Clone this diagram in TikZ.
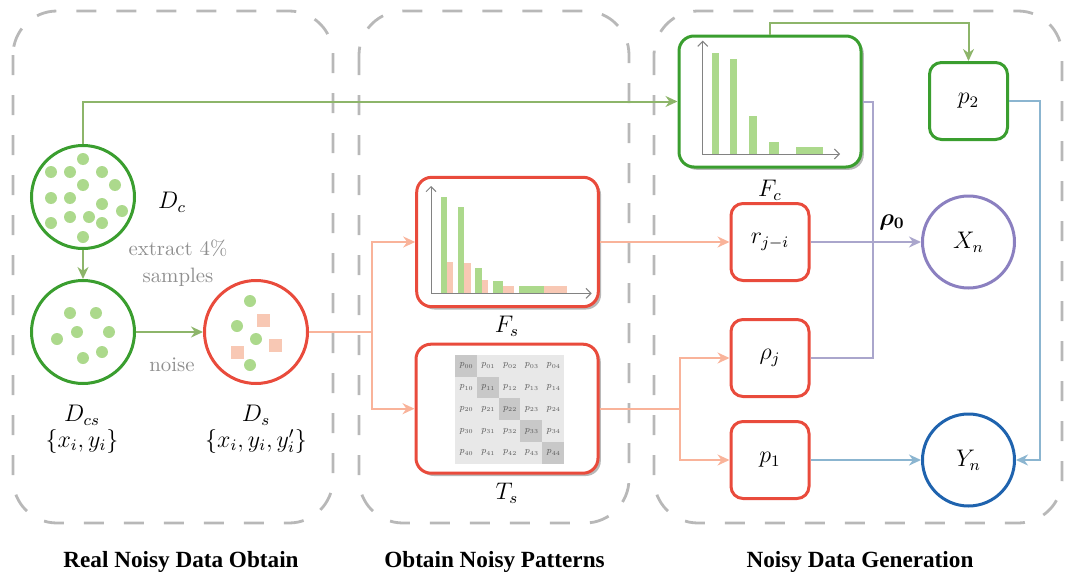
\documentclass[tikz,border=0pt]{standalone}
\usepackage{amsmath}
\usepackage{fontspec}
\newfontfamily\capfont{Liberation Serif}
\usetikzlibrary{arrows.meta,shadows,calc}
\definecolor{boxgreen}{RGB}{58,158,47}
\definecolor{dotgreen}{RGB}{172,217,140}
\definecolor{linegreen}{RGB}{141,181,106}
\definecolor{boxred}{RGB}{233,75,60}
\definecolor{salmon}{RGB}{249,179,154}
\definecolor{pinksq}{RGB}{248,200,180}
\definecolor{purpc}{RGB}{139,128,192}
\definecolor{purpl}{RGB}{170,166,204}
\definecolor{bluec}{RGB}{31,99,174}
\definecolor{bluel}{RGB}{139,181,208}
\definecolor{dashgray}{RGB}{184,184,184}
\definecolor{txtgray}{RGB}{143,143,143}
\definecolor{axgray}{RGB}{130,130,130}
\definecolor{cellA}{RGB}{232,232,232}
\definecolor{cellB}{RGB}{200,200,200}
\newcommand{\matentry}[2]{{\fontsize{4.6}{5}\selectfont\itshape p}\raisebox{-0.7pt}{\fontsize{3}{3}\selectfont #1#2}}
\begin{document}
\begin{tikzpicture}[x=0.5pt,y=-0.5pt,
  panelbox/.style={draw=dashgray, line width=1.4pt, dash pattern=on 10pt off 10pt, rounded corners=22pt},
  chartbox/.style={rectangle, rounded corners=7.5pt, line width=1.5pt, fill=white, inner sep=0pt,
     drop shadow={shadow xshift=1.4pt,shadow yshift=-1.4pt,fill=black!35,opacity=0.8}},
  smallbox/.style={rectangle, rounded corners=6pt, line width=1.5pt, fill=white, minimum width=39pt, minimum height=38.5pt, inner sep=0pt, font=\fontsize{12}{14}\selectfont},
  setcirc/.style={circle, line width=1.5pt, minimum size=51.5pt, inner sep=0pt},
  outcirc/.style={circle, line width=1.5pt, minimum size=46pt, inner sep=0pt, font=\fontsize{12}{14}\selectfont},
  connline/.style={line width=1pt},
  arrowtip/.style={-{Stealth[length=6pt,width=5.5pt]}},
  mathlab/.style={font=\fontsize{12}{14}\selectfont, inner sep=0pt},
  graylab/.style={font=\fontsize{10.4}{12}\selectfont, text=txtgray, inner sep=0pt},
  captxt/.style={font=\capfont\bfseries\fontsize{11.6}{13}\selectfont, inner sep=0pt},
  gdot/.style={fill=dotgreen},
  gbar/.style={fill=dotgreen},
  pbar/.style={fill=pinksq},
  chartaxis/.style={draw=axgray, line width=0.5pt, {Straight Barb[length=2.5pt,width=5pt]}-{Straight Barb[length=2.5pt,width=5pt]}},
  mtxt/.style={text=black!65, inner sep=0pt}
]
\useasboundingbox (0,0) rectangle (1066,578);

% panels
\draw[panelbox] (13,11) rectangle (333,523);
\draw[panelbox] (359,11) rectangle (629,523);
\draw[panelbox] (654,11) rectangle (1062,523);

% panel captions
\node[captxt] (c1) at (181,562) {Real Noisy Data Obtain};
\node[captxt] (c2) at (494.5,562) {Obtain Noisy Patterns};
\node[captxt] (c3) at (860,562) {Noisy Data Generation};

% data sets
\node[setcirc, draw=boxgreen] (Dc) at (83,197) {};
\node[setcirc, draw=boxgreen] (Dcs) at (83,332) {};
\node[setcirc, draw=boxred] (Ds) at (256,332) {};

\begin{scope}[shift={(83,197)}]
\foreach \p in {(0,-38),(-32,-25),(-13,-25),(19,-25),(0,-12),(32,-12),(-32,1),(-13,1),(19,7),(39,14),(-32,26),(-13,20),(6,20),(19,26),(0,40)}
  \fill[gdot] \p circle[radius=3pt];
\end{scope}
\begin{scope}[shift={(83,332)}]
\foreach \p in {(-13,-19),(13,-19),(-6,0),(26,0),(-26,7),(19,20),(0,26)}
  \fill[gdot] \p circle[radius=3pt];
\end{scope}
\begin{scope}[shift={(256,332)}]
\foreach \p in {(-6,-31),(-19,-6),(0,7),(-6,33)}
  \fill[gdot] \p circle[radius=3pt];
\foreach \a/\b in {7/-12,19/13,-19/20}
  \fill[pinksq] ({\a-6.5},{\b-6.5}) rectangle ++(13,13);
\end{scope}

\node[mathlab] (lDc) at (172,202) {$D_c$};
\node[mathlab] (lDcs) at (82,415) {$D_{cs}$};
\node[mathlab] (lDcsS) at (82,441) {$\{x_i,y_i\}$};
\node[mathlab] (lDs) at (256,415) {$D_s$};
\node[mathlab] (lDsS) at (256,441) {$\{x_i,y_i,y_i'\}$};
\node[graylab] (ex1) at (178,248) {extract 4\%};
\node[graylab] (ex2) at (178,277) {samples};
\node[graylab] (nz) at (172,365) {noise};

% chart boxes
\node[chartbox, draw=boxgreen, minimum width=91pt, minimum height=65.5pt] (Fc) at (770,101.5) {};
\node[chartbox, draw=boxred, minimum width=90.8pt, minimum height=64.7pt] (Fs) at (507.5,242) {};
\node[chartbox, draw=boxred, minimum width=91pt, minimum height=64.5pt] (Ts) at (507,408.7) {};
\node[mathlab] (lFc) at (770,190) {$F_c$};
\node[mathlab] (lFs) at (507,326) {$F_s$};
\node[mathlab] (lTs) at (507,493) {$T_s$};

% F_c chart
\fill[gbar] (711.7,154) rectangle (719,53.3);
\fill[gbar] (730,154) rectangle (737.3,59.3);
\fill[gbar] (749.3,154) rectangle (756.7,116);
\fill[gbar] (769,154) rectangle (779.3,142);
\fill[gbar] (795.7,154) rectangle (822.7,146.7);
\draw[chartaxis] (702.7,40.7) -- (702.7,154) -- (840,154);

% F_s chart
\fill[gbar] (440.7,293.3) rectangle (446.7,196.7);
\fill[gbar] (458.3,293.3) rectangle (464.3,207.3);
\fill[gbar] (475.3,293.3) rectangle (482,268.3);
\fill[gbar] (493.3,293.3) rectangle (503.3,281);
\fill[gbar] (519.3,293.3) rectangle (544,285.7);
\fill[pbar] (446.7,293.3) rectangle (452.7,262);
\fill[pbar] (464.3,293.3) rectangle (470.7,262.7);
\fill[pbar] (482,293.3) rectangle (488.3,280);
\fill[pbar] (503.3,293.3) rectangle (513.7,286);
\fill[pbar] (544,293.3) rectangle (567.3,286);
\draw[chartaxis] (431,186) -- (431,293.3) -- (591.7,293.3);

% T_s matrix
\foreach \i in {0,...,4}{
  \foreach \j in {0,...,4}{
    \ifnum\i=\j
      \fill[cellB] ({455+\j*21.8},{355+\i*21.7}) rectangle ++(21.8,21.7);
    \else
      \fill[cellA] ({455+\j*21.8},{355+\i*21.7}) rectangle ++(21.8,21.7);
    \fi
    \node[mtxt] (m\i\j) at ({455+(\j+0.5)*21.8},{355+(\i+0.5)*21.7}) {\matentry{\i}{\j}};
  }
}

% small boxes
\node[smallbox, draw=boxred] (r) at (770,242) {$r_{j-i}$};
\node[smallbox, draw=boxred] (rho) at (770,358) {$\rho_j$};
\node[smallbox, draw=boxred] (p1) at (770,460) {$p_1$};
\node[smallbox, draw=boxgreen] (p2) at (968.5,101) {$p_2$};

% outputs
\node[outcirc, draw=purpc] (Xn) at (968.5,242) {$X_n$};
\node[outcirc, draw=bluec] (Yn) at (968.5,460) {$Y_n$};
\node[mathlab] (lrho0) at (892,222) {$\boldsymbol{\rho_0}$};

% connectors
\draw[connline, draw=linegreen, arrowtip] (Dc) -- (Dcs);
\draw[connline, draw=linegreen, arrowtip] (Dcs) -- (Ds);
\draw[connline, draw=linegreen, arrowtip] (Dc.north) |- (Fc.west);
\draw[connline, draw=linegreen, arrowtip] (Fc.north) -- ++(0,-12) -| (p2.north);

\coordinate (br1) at (372,332);
\draw[connline, draw=salmon, arrowtip] (Ds.east) -- (br1) |- (Fs.west);
\draw[connline, draw=salmon, arrowtip] (br1) |- (Ts.west);
\draw[connline, draw=salmon, arrowtip] (Fs.east) -- (r.west);
\coordinate (br2) at (680,408.7);
\draw[connline, draw=salmon, arrowtip] (Ts.east) -- (br2) |- (rho.west);
\draw[connline, draw=salmon, arrowtip] (br2) |- (p1.west);

\coordinate (pc) at (873,358);
\draw[connline, draw=purpl] (Fc.east) -| (pc) -- (rho.east);
\draw[connline, draw=purpl, arrowtip] (r.east) -- (Xn.west);

\coordinate (bc) at (1040,460);
\draw[connline, draw=bluel, arrowtip] (p2.east) -| (bc) -- (Yn.east);
\draw[connline, draw=bluel, arrowtip] (p1.east) -- (Yn.west);
\end{tikzpicture}
\end{document}
